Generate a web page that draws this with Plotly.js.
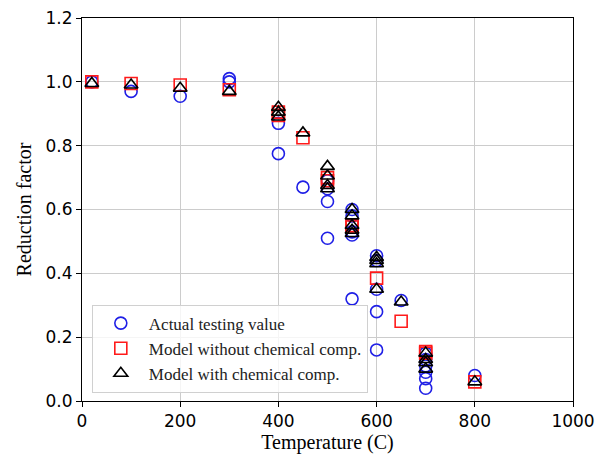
<!DOCTYPE html>
<html>
<head>
<meta charset="utf-8">
<script src="https://cdn.plot.ly/plotly-3.0.1.min.js"></script>
<style>html,body{margin:0;padding:0;background:#fff;}#chart{width:609px;height:461px;}</style>
</head>
<body>
<div id="chart"></div>
<script>
// Actual testing value
const actualT = [20, 100, 200, 300, 300, 400, 400, 450, 500, 500, 500, 500, 550, 550, 550, 550, 550, 600, 600, 600, 600, 600, 650, 700, 700, 700, 700, 700, 700, 800];
const actualV = [1.0, 0.97, 0.955, 1.01, 1.0, 0.87, 0.775, 0.67, 0.69, 0.665, 0.625, 0.51, 0.6, 0.58, 0.53, 0.52, 0.32, 0.455, 0.44, 0.35, 0.28, 0.16, 0.315, 0.15, 0.13, 0.11, 0.09, 0.07, 0.04, 0.08];
// Model without chemical composition
const noChemT = [20, 100, 200, 300, 400, 400, 450, 500, 500, 550, 550, 600, 650, 700, 700, 800];
const noChemV = [1.0, 0.995, 0.99, 0.975, 0.905, 0.895, 0.825, 0.70, 0.69, 0.55, 0.545, 0.385, 0.25, 0.155, 0.15, 0.06];
// Model with chemical composition
const chemT = [20, 100, 200, 300, 400, 400, 400, 450, 500, 500, 500, 500, 550, 550, 550, 550, 550, 600, 600, 600, 600, 650, 700, 700, 700, 700, 800];
const chemV = [0.995, 0.99, 0.98, 0.97, 0.92, 0.905, 0.89, 0.84, 0.735, 0.705, 0.675, 0.665, 0.60, 0.58, 0.55, 0.535, 0.525, 0.45, 0.44, 0.43, 0.35, 0.31, 0.15, 0.13, 0.12, 0.10, 0.06];
const seriesNames = ["Actual testing value", "Model without chemical comp.", "Model with chemical comp."];
const xTicks = [0, 200, 400, 600, 800, 1000];
const yTicks = [0.0, 0.2, 0.4, 0.6, 0.8, 1.0, 1.2];

const traces = [
  {x: actualT, y: actualV, name: seriesNames[0], type: 'scatter', mode: 'markers',
   marker: {symbol: 'circle-open', size: 12, color: '#1f1fe6', line: {width: 1.6, color: '#1f1fe6'}}},
  {x: noChemT, y: noChemV, name: seriesNames[1], type: 'scatter', mode: 'markers',
   marker: {symbol: 'square-open', size: 12, color: '#ff1a1a', line: {width: 1.6, color: '#ff1a1a'}}},
  {x: chemT, y: chemV, name: seriesNames[2], type: 'scatter', mode: 'markers',
   marker: {symbol: 'triangle-up-open', size: 12, color: '#000000', line: {width: 1.6, color: '#000000'}}}
];

const layout = {
  width: 609, height: 461,
  margin: {l: 82, r: 36, t: 18, b: 60},
  paper_bgcolor: '#fff', plot_bgcolor: '#fff',
  showlegend: true,
  legend: {x: 0.02, y: 0.022, xanchor: 'left', yanchor: 'bottom',
    bgcolor: 'rgba(255,255,255,0.8)', bordercolor: '#d0d0d0', borderwidth: 1,
    font: {family: 'Liberation Serif, Times New Roman, serif', size: 17, color: '#222'},
    tracegroupgap: 2, itemwidth: 46},
  xaxis: {range: [0, 1000], tickvals: xTicks, ticktext: xTicks.map(String),
    showgrid: true, gridcolor: '#cccccc', gridwidth: 1, zeroline: false,
    showline: true, linecolor: '#000', linewidth: 1, mirror: true,
    ticks: 'outside', ticklen: 5, tickcolor: '#000',
    tickfont: {family: 'DejaVu Sans, sans-serif', size: 17, color: '#000'},
    title: {text: 'Temperature (C)', standoff: 4, font: {family: 'Liberation Serif, Times New Roman, serif', size: 20, color: '#000'}}},
  yaxis: {range: [0, 1.2], tickvals: yTicks, ticktext: yTicks.map(v => v.toFixed(1)),
    showgrid: true, gridcolor: '#cccccc', gridwidth: 1, zeroline: false,
    showline: true, linecolor: '#000', linewidth: 1, mirror: true,
    ticks: 'outside', ticklen: 5, tickcolor: '#000',
    tickfont: {family: 'DejaVu Sans, sans-serif', size: 17, color: '#000'},
    title: {text: 'Reduction factor', standoff: 8, font: {family: 'Liberation Serif, Times New Roman, serif', size: 20, color: '#000'}}}
};

Plotly.newPlot('chart', traces, layout, {displayModeBar: false, staticPlot: true});
</script>
</body>
</html>
